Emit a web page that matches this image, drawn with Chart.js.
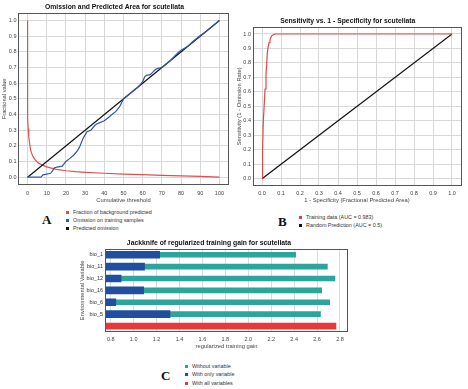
<!DOCTYPE html>
<html>
<head>
<meta charset="utf-8">
<script src="https://cdn.jsdelivr.net/npm/chart.js@4"></script>
<style>
  html, body { margin:0; padding:0; background:#fff; width:468px; height:389px; overflow:hidden; position:relative; font-family:"Liberation Sans", Arial, sans-serif; }
  .box { position:absolute; }
  .letter { position:absolute; font-family:"Liberation Serif", "Times New Roman", serif; font-weight:bold; font-size:13px; line-height:1; color:#111; }
  .lg { position:absolute; font-size:5.4px; color:#333; white-space:nowrap; }
  .lg div { height:8.3px; line-height:8.3px; }
  .lg i { display:inline-block; width:3px; height:3px; margin-right:4px; vertical-align:middle; }
</style>
</head>
<body>

<div class="box" style="left:0;top:0;width:248px;height:207px"><canvas id="omissionChart"></canvas></div>
<div class="box" style="left:234px;top:14px;width:246px;height:194px"><canvas id="rocChart"></canvas></div>
<div class="box" style="left:70px;top:236px;width:313px;height:116px"><canvas id="jackknifeChart"></canvas></div>

<div class="letter" style="left:42px;top:213px">A</div>
<div class="lg" style="left:66px;top:207.5px">
  <div><i style="background:#e04f4f"></i>Fraction of background predicted</div>
  <div><i style="background:#3556b0"></i>Omission on training samples</div>
  <div><i style="background:#111"></i>Predicted omission</div>
</div>

<div class="letter" style="left:278px;top:215px">B</div>
<div class="lg" style="left:299px;top:213.2px">
  <div style="height:8px;line-height:8px"><i style="background:#e04040"></i>Training data (AUC = 0.983)</div>
  <div style="height:8px;line-height:8px"><i style="background:#111"></i>Random Prediction (AUC = 0.5)</div>
</div>

<div class="letter" style="left:161px;top:369px">C</div>
<div class="lg" style="left:185px;top:361.5px">
  <div style="height:8.5px;line-height:8.5px"><i style="background:#2ba59e"></i>Without variable</div>
  <div style="height:8.5px;line-height:8.5px"><i style="background:#1f4f9e"></i>With only variable</div>
  <div style="height:8.5px;line-height:8.5px"><i style="background:#e63a3a"></i>With all variables</div>
</div>

<script>
// --- omission / predicted area (A)
const thresholdTicks = [0,10,20,30,40,50,60,70,80,90,100];
const fractionTicks = [0,0.1,0.2,0.3,0.4,0.5,0.6,0.7,0.8,0.9,1.0];

const bgThreshold = [0,0,0.3,0.6,1,1.5,2,3,4,5,6,8,10,12,15,20,25,30,40,50,60,70,80,90,100];
const bgFraction  = [1.0,0.38,0.31,0.26,0.22,0.18,0.155,0.128,0.11,0.097,0.088,0.075,0.066,0.059,0.05,0.041,0.035,0.031,0.025,0.02,0.016,0.012,0.008,0.005,0.0];

const omThreshold = [0,7,8,10,12,13,14,16,18,19,20,22,24,26,27,28,29,30,31,33,35,36,38,40,42,44,46,48,50,52,54,56,58,60,61,62,64,66,67,68,70,72,74,76,78,80,82,84,86,88,90,92,94,96,98,100];
const omTraining  = [0,0,0.015,0.02,0.025,0.04,0.06,0.066,0.07,0.085,0.1,0.12,0.14,0.17,0.19,0.22,0.25,0.27,0.29,0.3,0.33,0.34,0.35,0.36,0.38,0.4,0.42,0.45,0.5,0.52,0.54,0.56,0.58,0.61,0.64,0.65,0.655,0.68,0.69,0.695,0.7,0.72,0.74,0.765,0.79,0.81,0.825,0.84,0.865,0.885,0.905,0.92,0.94,0.96,0.98,1.0];

const predThreshold = [0,100];
const predOmission  = [0,1];

// --- ROC (B)
const rateTicks = [0,0.1,0.2,0.3,0.4,0.5,0.6,0.7,0.8,0.9,1.0];
const rocFpr = [0,0.003,0.007,0.012,0.016,0.021,0.025,0.028,0.032,0.037,0.042,0.046,0.052,0.06,0.07,1];
const rocTpr = [0,0.2,0.4,0.52,0.62,0.72,0.8,0.87,0.91,0.94,0.96,0.975,0.99,0.995,1,1];
const randomFpr = [0,1];
const randomTpr = [0,1];

// --- jackknife (C)
const variables   = ['bio_1','bio_11','bio_12','bio_16','bio_6','bio_5',''];
const withoutGain = [2.414,2.69,2.756,2.64,2.71,2.63,null];
const onlyGain    = [1.227,1.095,0.89,1.087,0.844,1.317,null];
const allGain     = [null,null,null,null,null,null,2.765];
const gainTicks   = [0.8,1.0,1.2,1.4,1.6,1.8,2.0,2.2,2.4,2.6,2.8];

Chart.defaults.font.family = '"Liberation Sans", Arial, sans-serif';
Chart.defaults.color = '#444';
Chart.defaults.animation = false;

const pairs = (xs, ys) => xs.map((x, i) => ({x: x, y: ys[i]}));

const framePlugin = {
  id: 'frame',
  afterDatasetsDraw(chart) {
    const {ctx, chartArea: a} = chart;
    ctx.save();
    ctx.strokeStyle = '#555';
    ctx.lineWidth = 1;
    ctx.strokeRect(Math.round(a.left) + 0.5, Math.round(a.top) + 0.5,
                   Math.round(a.right - a.left) - 1, Math.round(a.bottom - a.top) - 1);
    ctx.restore();
  }
};

const tickFont = {size: 5.5};
const axisTitleFont = {size: 5.8};
const plotTitle = text => ({
  display: true, text: text, color: '#111',
  font: {size: 6.8, weight: 'bold'},
  padding: {top: 2.6, bottom: 2}
});
const line = (label, data, color, order) => ({
  label: label, data: data, borderColor: color, backgroundColor: color,
  borderWidth: 1.2, pointRadius: 0, tension: 0, fill: false, order: order
});

new Chart(document.getElementById('omissionChart'), {
  type: 'line',
  data: {
    datasets: [
      line('Omission on training samples', pairs(omThreshold, omTraining), '#3556b0', 0),
      line('Predicted omission', pairs(predThreshold, predOmission), '#111', 1),
      line('Fraction of background predicted', pairs(bgThreshold, bgFraction), '#e04f4f', 2)
    ]
  },
  options: {
    responsive: true, maintainAspectRatio: false,
    layout: {padding: {left: 0, right: 19, top: 0, bottom: 0}},
    plugins: {legend: {display: false}, tooltip: {enabled: false}, title: plotTitle('Omission and Predicted Area for scutellata')},
    scales: {
      x: {
        type: 'linear', min: -5, max: 105,
        afterBuildTicks: s => { s.ticks = thresholdTicks.map(v => ({value: v})); },
        afterFit: s => { s.height = 22; },
        grid: {color: '#d8d8d8', drawTicks: false}, border: {display: false},
        ticks: {font: tickFont, padding: 5, maxRotation: 0, autoSkip: false},
        title: {display: true, text: 'Cumulative threshold', font: axisTitleFont, padding: {top: 0, bottom: 2.7}}
      },
      y: {
        type: 'linear', min: -0.05, max: 1.05,
        afterBuildTicks: s => { s.ticks = fractionTicks.map(v => ({value: v})); },
        afterFit: s => { s.width = 18; },
        grid: {color: '#d8d8d8', drawTicks: false}, border: {display: false},
        ticks: {font: tickFont, padding: 1.5, autoSkip: false, callback: v => v.toFixed(1)},
        title: {display: true, text: 'Fractional value', font: axisTitleFont, padding: {top: 0.8, bottom: 0}}
      }
    }
  },
  plugins: [framePlugin]
});

new Chart(document.getElementById('rocChart'), {
  type: 'line',
  data: {
    datasets: [
      line('Training data (AUC = 0.983)', pairs(rocFpr, rocTpr), '#e04848', 0),
      line('Random Prediction (AUC = 0.5)', pairs(randomFpr, randomTpr), '#111', 1)
    ]
  },
  options: {
    responsive: true, maintainAspectRatio: false,
    layout: {padding: {left: 0, right: 18.5, top: 0, bottom: 0}},
    plugins: {legend: {display: false}, tooltip: {enabled: false}, title: plotTitle('Sensitivity vs. 1 - Specificity for scutellata')},
    scales: {
      x: {
        type: 'linear', min: -0.05, max: 1.05,
        afterBuildTicks: s => { s.ticks = rateTicks.map(v => ({value: v})); },
        afterFit: s => { s.height = 22; },
        grid: {color: '#d8d8d8', drawTicks: false}, border: {display: false},
        ticks: {font: tickFont, padding: 4, maxRotation: 0, autoSkip: false, callback: v => v.toFixed(1)},
        title: {display: true, text: '1 - Specificity (Fractional Predicted Area)', font: axisTitleFont, padding: {top: 0, bottom: 3.7}}
      },
      y: {
        type: 'linear', min: -0.05, max: 1.05,
        afterBuildTicks: s => { s.ticks = rateTicks.map(v => ({value: v})); },
        afterFit: s => { s.width = 18.5; },
        grid: {color: '#d8d8d8', drawTicks: false}, border: {display: false},
        ticks: {font: tickFont, padding: 1.5, autoSkip: false, callback: v => v.toFixed(1)},
        title: {display: true, text: 'Sensitivity (1 - Omission Rate)', font: axisTitleFont, padding: {top: 1.5, bottom: 0}}
      }
    }
  },
  plugins: [framePlugin]
});

new Chart(document.getElementById('jackknifeChart'), {
  type: 'bar',
  data: {
    labels: variables,
    datasets: [
      {label: 'With only variable', data: onlyGain, backgroundColor: '#1f4f9e', barThickness: 7, grouped: false, order: 0},
      {label: 'Without variable', data: withoutGain, backgroundColor: '#2ba59e', barThickness: 5, grouped: false, order: 1},
      {label: 'With all variables', data: allGain, backgroundColor: '#e63a3a', barThickness: 6, grouped: false, order: 2}
    ]
  },
  options: {
    indexAxis: 'y',
    responsive: true, maintainAspectRatio: false,
    layout: {padding: {left: 0, right: 35, top: 0, bottom: 0}},
    plugins: {legend: {display: false}, tooltip: {enabled: false}, title: plotTitle('Jackknife of regularized training gain for scutellata')},
    scales: {
      x: {
        type: 'linear', min: 0.75, max: 2.87,
        afterBuildTicks: s => { s.ticks = gainTicks.map(v => ({value: v})); },
        afterFit: s => { s.height = 20; },
        grid: {color: '#dcdcdc', drawTicks: false}, border: {display: false},
        ticks: {font: tickFont, padding: 4, maxRotation: 0, autoSkip: false, callback: v => v.toFixed(1)},
        title: {display: true, text: 'regularized training gain', font: axisTitleFont, padding: {top: 0, bottom: 1.7}}
      },
      y: {
        afterFit: s => { s.width = 35; },
        grid: {display: false, drawTicks: false}, border: {display: false},
        ticks: {font: tickFont, padding: 2, autoSkip: false, color: '#333'},
        title: {display: true, text: 'Environmental Variable', font: axisTitleFont, padding: {top: 9.4, bottom: 0}}
      }
    }
  },
  plugins: [framePlugin]
});
</script>
</body>
</html>
